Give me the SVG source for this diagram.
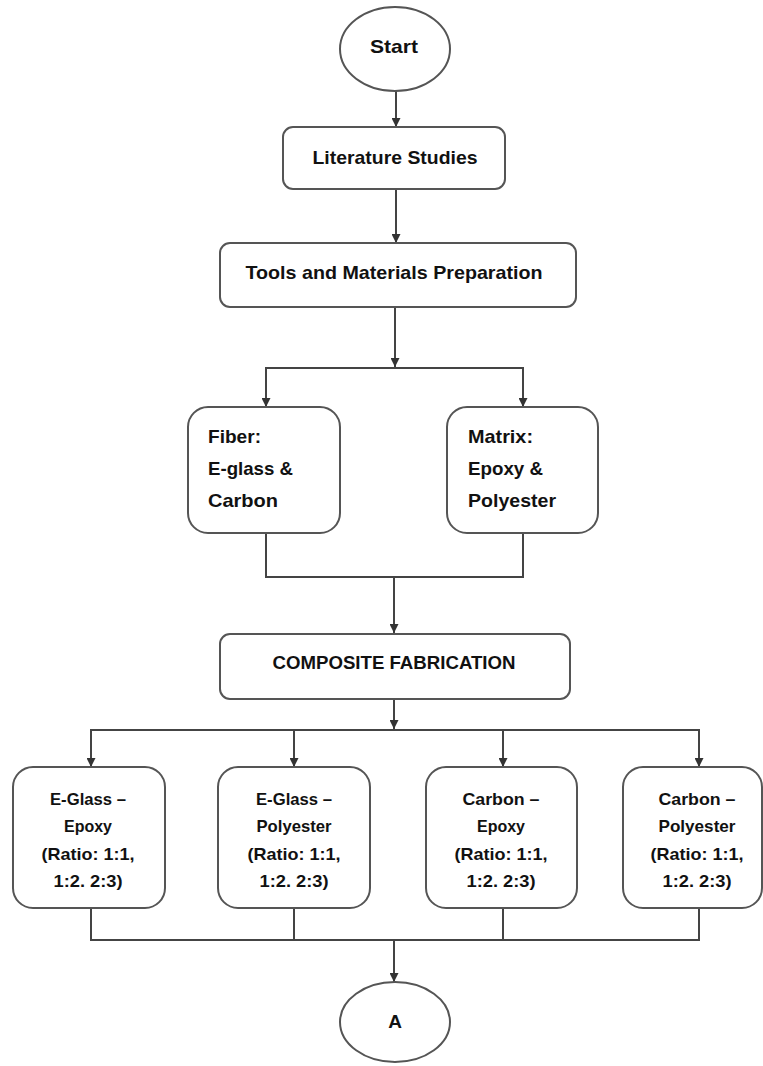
<svg xmlns="http://www.w3.org/2000/svg" width="763" height="1066" viewBox="0 0 763 1066">
<defs>
<marker id="ah" viewBox="0 0 10 10" refX="10" refY="5" markerWidth="9" markerHeight="9" markerUnits="userSpaceOnUse" orient="auto">
<path d="M0,0 L10,5 L0,10 z" fill="#333"/>
</marker>
<style>
.node{fill:#fff;stroke:#555;stroke-width:2}
.t{font-family:"Liberation Sans",Arial,sans-serif;font-weight:bold;fill:#111;font-size:19px}
.s{font-size:17px}
.c{text-anchor:middle}
.w{fill:none;stroke:#444;stroke-width:2}
.a{fill:none;stroke:#444;stroke-width:2;marker-end:url(#ah)}
</style>
</defs>
<rect width="763" height="1066" fill="#fff"/>
<g id="connectors">
<line class="a" x1="396" y1="91" x2="396" y2="127"/>
<line class="a" x1="396" y1="189" x2="396" y2="243"/>
<line class="a" x1="395" y1="308" x2="395" y2="367"/>
<line class="w" x1="265" y1="368" x2="524" y2="368"/>
<line class="a" x1="266" y1="368" x2="266" y2="407"/>
<line class="a" x1="523" y1="368" x2="523" y2="407"/>
<polyline class="w" points="266,533 266,577 523,577 523,533"/>
<line class="a" x1="394" y1="577" x2="394" y2="633"/>
<line class="a" x1="394" y1="699" x2="394" y2="729"/>
<line class="w" x1="90" y1="730" x2="700" y2="730"/>
<line class="a" x1="91" y1="730" x2="91" y2="767"/>
<line class="a" x1="294" y1="730" x2="294" y2="767"/>
<line class="a" x1="503" y1="730" x2="503" y2="767"/>
<line class="a" x1="699" y1="730" x2="699" y2="767"/>
<polyline class="w" points="91,908 91,940 699,940 699,908"/>
<line class="w" x1="294" y1="908" x2="294" y2="940"/>
<line class="w" x1="503" y1="908" x2="503" y2="940"/>
<line class="a" x1="394" y1="940" x2="394" y2="982"/>
</g>
<g id="start">
<ellipse class="node" cx="395" cy="49" rx="55" ry="42"/>
<text class="t c" x="394" y="53" textLength="48" lengthAdjust="spacingAndGlyphs">Start</text>
</g>
<g id="literature">
<rect class="node" x="283" y="127" width="222" height="62" rx="10"/>
<text class="t c" x="395" y="164" textLength="165" lengthAdjust="spacingAndGlyphs">Literature Studies</text>
</g>
<g id="tools">
<rect class="node" x="220" y="243" width="356" height="64" rx="10"/>
<text class="t c" x="394" y="279" textLength="297" lengthAdjust="spacingAndGlyphs">Tools and Materials Preparation</text>
</g>
<g id="fiber">
<rect class="node" x="188" y="407" width="152" height="126" rx="20"/>
<text class="t" x="208" y="443" textLength="53" lengthAdjust="spacingAndGlyphs">Fiber:</text>
<text class="t" x="208" y="475" textLength="85" lengthAdjust="spacingAndGlyphs">E-glass &amp;</text>
<text class="t" x="208" y="507" textLength="70" lengthAdjust="spacingAndGlyphs">Carbon</text>
</g>
<g id="matrix">
<rect class="node" x="447" y="407" width="151" height="126" rx="20"/>
<text class="t" x="468" y="443" textLength="65" lengthAdjust="spacingAndGlyphs">Matrix:</text>
<text class="t" x="468" y="475" textLength="75" lengthAdjust="spacingAndGlyphs">Epoxy &amp;</text>
<text class="t" x="468" y="507" textLength="88" lengthAdjust="spacingAndGlyphs">Polyester</text>
</g>
<g id="composite">
<rect class="node" x="220" y="634" width="350" height="65" rx="10"/>
<text class="t c" x="394" y="669" textLength="243" lengthAdjust="spacingAndGlyphs">COMPOSITE FABRICATION</text>
</g>
<g id="eglass-epoxy">
<rect class="node" x="13" y="767" width="152" height="141" rx="20"/>
<text class="t s c" x="88" y="805" textLength="76" lengthAdjust="spacingAndGlyphs">E-Glass –</text>
<text class="t s c" x="88" y="832" textLength="48" lengthAdjust="spacingAndGlyphs">Epoxy</text>
<text class="t s c" x="88" y="860" textLength="93" lengthAdjust="spacingAndGlyphs">(Ratio: 1:1,</text>
<text class="t s c" x="88" y="887" textLength="69" lengthAdjust="spacingAndGlyphs">1:2. 2:3)</text>
</g>
<g id="eglass-polyester">
<rect class="node" x="218" y="767" width="152" height="141" rx="20"/>
<text class="t s c" x="294" y="805" textLength="76" lengthAdjust="spacingAndGlyphs">E-Glass –</text>
<text class="t s c" x="294" y="832" textLength="75" lengthAdjust="spacingAndGlyphs">Polyester</text>
<text class="t s c" x="294" y="860" textLength="93" lengthAdjust="spacingAndGlyphs">(Ratio: 1:1,</text>
<text class="t s c" x="294" y="887" textLength="69" lengthAdjust="spacingAndGlyphs">1:2. 2:3)</text>
</g>
<g id="carbon-epoxy">
<rect class="node" x="426" y="767" width="151" height="141" rx="20"/>
<text class="t s c" x="501" y="805" textLength="77" lengthAdjust="spacingAndGlyphs">Carbon –</text>
<text class="t s c" x="501" y="832" textLength="48" lengthAdjust="spacingAndGlyphs">Epoxy</text>
<text class="t s c" x="501" y="860" textLength="93" lengthAdjust="spacingAndGlyphs">(Ratio: 1:1,</text>
<text class="t s c" x="501" y="887" textLength="69" lengthAdjust="spacingAndGlyphs">1:2. 2:3)</text>
</g>
<g id="carbon-polyester">
<rect class="node" x="623" y="767" width="139" height="141" rx="20"/>
<text class="t s c" x="697" y="805" textLength="77" lengthAdjust="spacingAndGlyphs">Carbon –</text>
<text class="t s c" x="697" y="832" textLength="77" lengthAdjust="spacingAndGlyphs">Polyester</text>
<text class="t s c" x="697" y="860" textLength="93" lengthAdjust="spacingAndGlyphs">(Ratio: 1:1,</text>
<text class="t s c" x="697" y="887" textLength="69" lengthAdjust="spacingAndGlyphs">1:2. 2:3)</text>
</g>
<g id="a">
<ellipse class="node" cx="395" cy="1022" rx="55" ry="40"/>
<text class="t c" x="395" y="1028">A</text>
</g>
</svg>
